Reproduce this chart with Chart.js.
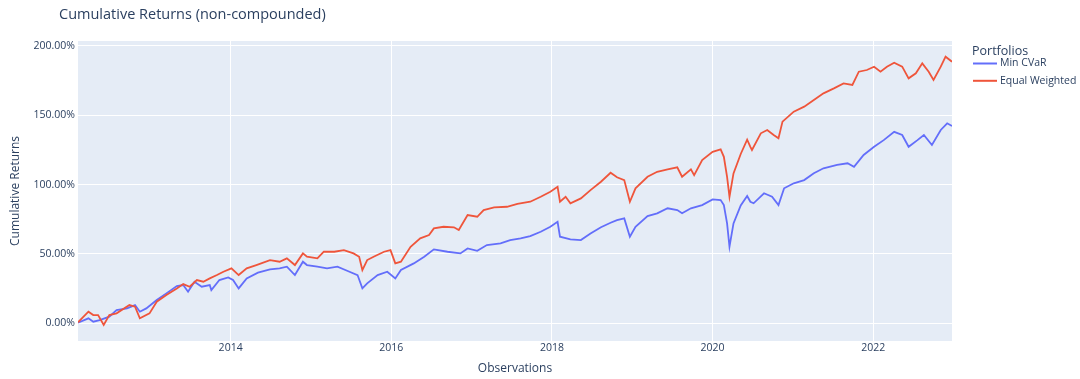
<!DOCTYPE html>
<html>
<head>
<meta charset="utf-8">
<script src="https://cdn.jsdelivr.net/npm/chart.js@4.4.1/dist/chart.umd.min.js"></script>
<style>
  html, body { margin: 0; padding: 0; background: #ffffff; }
  #wrap { width: 1080px; height: 379px; position: relative; }
</style>
</head>
<body>
<div id="wrap"><canvas id="c" width="1080" height="379"></canvas></div>
<script>
// ---- data (fractional year, cumulative return in %) ----
const seriesNames = ["Min CVaR", "Equal Weighted"];
const xTickYears = [2014, 2016, 2018, 2020, 2022];
const yTickValues = [0, 50, 100, 150, 200];

const cvarYears = [2012.10, 2012.23, 2012.29, 2012.37, 2012.49, 2012.58, 2012.71, 2012.81, 2012.87, 2012.95,
  2013.08, 2013.20, 2013.33, 2013.41, 2013.47, 2013.55, 2013.64, 2013.74, 2013.76, 2013.86, 2013.97,
  2014.03, 2014.10, 2014.20, 2014.34, 2014.49, 2014.61, 2014.70, 2014.80, 2014.90, 2014.95,
  2015.08, 2015.20, 2015.33, 2015.45, 2015.58, 2015.64, 2015.70, 2015.83, 2015.95,
  2016.05, 2016.12, 2016.28, 2016.41, 2016.53, 2016.70, 2016.86, 2016.95,
  2017.07, 2017.19, 2017.36, 2017.48, 2017.61, 2017.73, 2017.86, 2017.98,
  2018.07, 2018.10, 2018.23, 2018.36, 2018.48, 2018.61, 2018.73, 2018.81, 2018.90, 2018.97,
  2019.04, 2019.19, 2019.31, 2019.44, 2019.56, 2019.62, 2019.73, 2019.87,
  2020.00, 2020.10, 2020.14, 2020.18, 2020.21, 2020.26, 2020.35, 2020.43, 2020.47, 2020.51, 2020.64, 2020.74, 2020.82, 2020.89,
  2021.01, 2021.14, 2021.26, 2021.38, 2021.55, 2021.68, 2021.76, 2021.88,
  2022.01, 2022.13, 2022.26, 2022.36, 2022.44, 2022.55, 2022.63, 2022.73, 2022.84, 2022.92, 2022.98];
const cvarValues = [0.5, 3.6, 1.2, 2.4, 4.8, 9.6, 10.8, 13.2, 8.4, 10.8,
  16.8, 21.6, 26.9, 27.6, 22.8, 30.0, 26.4, 27.6, 24.0, 31.2, 33.1,
  31.2, 25.2, 32.4, 36.5, 38.9, 39.6, 40.8, 34.8, 44.4, 42.0,
  40.8, 39.6, 40.8, 37.9, 34.8, 25.2, 28.8, 34.8, 37.2,
  32.4, 38.4, 43.2, 48.0, 53.3, 51.6, 50.4, 54.0,
  52.3, 56.4, 57.6, 60.0, 61.2, 62.9, 66.0, 69.6,
  73.2, 62.4, 60.5, 60.0, 64.8, 69.2, 72.5, 74.4, 75.6, 62.4,
  69.6, 77.3, 79.3, 82.9, 81.6, 79.3, 82.9, 85.2,
  89.3, 88.8, 85.2, 72.0, 55.2, 72.0, 85.0, 91.7, 87.6, 86.5, 93.7, 91.2, 85.2, 97.3,
  100.9, 103.2, 108.1, 111.7, 114.1, 115.3, 112.8, 121.3,
  127.2, 132.0, 138.0, 135.7, 127.2, 132.0, 135.7, 128.5, 139.3, 144.1, 142.2];

const ewYears = [2012.10, 2012.23, 2012.29, 2012.35, 2012.42, 2012.49, 2012.58, 2012.74, 2012.81, 2012.87, 2012.99,
  2013.08, 2013.20, 2013.33, 2013.41, 2013.49, 2013.58, 2013.66, 2013.74, 2013.83, 2013.91,
  2014.01, 2014.10, 2014.20, 2014.32, 2014.49, 2014.61, 2014.70, 2014.80, 2014.90, 2014.95,
  2015.08, 2015.16, 2015.29, 2015.41, 2015.53, 2015.60, 2015.64, 2015.70, 2015.78, 2015.91, 2015.99,
  2016.05, 2016.12, 2016.24, 2016.36, 2016.47, 2016.53, 2016.65, 2016.78, 2016.84, 2016.95,
  2017.07, 2017.15, 2017.28, 2017.44, 2017.57, 2017.73, 2017.86, 2017.98,
  2018.07, 2018.10, 2018.17, 2018.23, 2018.36, 2018.48, 2018.61, 2018.73, 2018.81, 2018.90, 2018.97,
  2019.04, 2019.19, 2019.31, 2019.44, 2019.56, 2019.62, 2019.73, 2019.77, 2019.87,
  2020.00, 2020.10, 2020.14, 2020.18, 2020.21, 2020.26, 2020.35, 2020.43, 2020.47, 2020.49, 2020.60, 2020.68, 2020.76, 2020.82, 2020.87,
  2021.01, 2021.14, 2021.26, 2021.38, 2021.51, 2021.63, 2021.74, 2021.82, 2021.92,
  2022.01, 2022.09, 2022.17, 2022.26, 2022.36, 2022.44, 2022.53, 2022.61, 2022.69, 2022.75, 2022.84, 2022.90, 2022.98];
const ewValues = [0.8, 8.4, 6.0, 6.0, -1.2, 6.0, 7.2, 13.2, 12.0, 3.6, 7.2,
  15.6, 20.4, 25.2, 28.3, 26.4, 31.2, 30.0, 32.4, 34.8, 37.2,
  39.6, 34.8, 39.6, 42.0, 45.6, 44.4, 46.8, 42.0, 50.4, 48.0,
  46.8, 51.6, 51.6, 52.8, 50.4, 48.0, 38.4, 45.6, 48.0, 51.6, 52.8,
  43.2, 44.4, 55.2, 61.2, 63.6, 68.4, 69.6, 69.2, 67.2, 78.0,
  76.8, 81.6, 83.6, 84.0, 86.0, 87.6, 91.2, 94.8,
  98.4, 87.6, 91.2, 86.5, 90.0, 96.0, 102.0, 108.5, 105.2, 103.2, 87.6,
  97.3, 105.6, 109.2, 111.0, 112.4, 105.6, 111.0, 106.8, 117.7,
  123.6, 125.4, 120.0, 105.6, 91.2, 108.0, 122.0, 132.3, 127.2, 124.9, 136.9, 139.3, 135.7, 133.3, 145.3,
  152.5, 156.1, 160.9, 165.7, 169.3, 172.9, 171.7, 181.3, 182.5,
  184.9, 181.3, 184.9, 187.8, 184.9, 176.5, 180.1, 187.3, 181.3, 175.3, 184.9, 192.1, 188.5];

// ---- styling ----
const FONT = "'Open Sans', 'Liberation Sans', sans-serif";
const TEXT = "#2a3f5f";
const BLUE = "#636efa";
const RED = "#ef553b";
const PLOT_BG = "#e5ecf6";

const toPoints = (xs, ys) => xs.map((x, i) => ({ x: x, y: ys[i] }));

const bgPlugin = {
  id: "plotBg",
  beforeDraw(chart) {
    const { ctx, chartArea: a } = chart;
    ctx.save();
    ctx.fillStyle = PLOT_BG;
    ctx.fillRect(a.left, a.top, a.right - a.left, a.bottom - a.top);
    ctx.restore();
  }
};

const textPlugin = {
  id: "titleLegend",
  afterDraw(chart) {
    const { ctx, chartArea: a } = chart;
    ctx.save();
    ctx.fillStyle = TEXT;
    ctx.textBaseline = "middle";
    ctx.textAlign = "left";
    ctx.font = "14.5px " + FONT;
    ctx.fillText("Cumulative Returns (non-compounded)", 59, 15);
    // legend
    const lx = a.right + 20;
    ctx.font = "12.5px " + FONT;
    ctx.fillText("Portfolios", lx, 51);
    const colors = [BLUE, RED];
    ctx.font = "10.5px " + FONT;
    seriesNames.forEach((name, i) => {
      const y = 63.5 + i * 17.3;
      ctx.strokeStyle = colors[i];
      ctx.lineWidth = 2;
      ctx.beginPath();
      ctx.moveTo(lx + 1, y);
      ctx.lineTo(lx + 25, y);
      ctx.stroke();
      ctx.fillStyle = TEXT;
      ctx.fillText(name, lx + 28, y);
    });
    ctx.restore();
  }
};

new Chart(document.getElementById("c"), {
  type: "line",
  data: {
    datasets: [
      { label: seriesNames[0], data: toPoints(cvarYears, cvarValues), borderColor: BLUE, borderWidth: 1.8, pointRadius: 0, tension: 0, order: 2 },
      { label: seriesNames[1], data: toPoints(ewYears, ewValues), borderColor: RED, borderWidth: 1.8, pointRadius: 0, tension: 0, order: 1 }
    ]
  },
  options: {
    responsive: false,
    animation: false,
    devicePixelRatio: 1,
    layout: { padding: { top: 41, right: 128, bottom: 0, left: 0 } },
    plugins: { legend: { display: false }, title: { display: false }, tooltip: { enabled: false } },
    scales: {
      x: {
        type: "linear",
        min: 2012.10,
        max: 2022.98,
        afterBuildTicks(scale) { scale.ticks = xTickYears.map(v => ({ value: v })); },
        afterFit(scale) { scale.height = 38; },
        grid: { color: "#ffffff", lineWidth: 1, drawTicks: false },
        border: { display: false },
        ticks: { padding: 1, color: TEXT, font: { family: FONT, size: 10.5 }, maxRotation: 0, callback: v => String(v) },
        title: { display: true, text: "Observations", color: TEXT, font: { family: FONT, size: 12 }, padding: { top: 0, bottom: 3 } }
      },
      y: {
        type: "linear",
        min: -12.7,
        max: 203.4,
        afterBuildTicks(scale) { scale.ticks = yTickValues.map(v => ({ value: v })); },
        afterFit(scale) { scale.width = 78; },
        grid: { color: "#ffffff", lineWidth: 1, drawTicks: false },
        border: { display: false },
        ticks: { padding: 3, color: TEXT, font: { family: FONT, size: 10.5 }, callback: v => Number(v).toFixed(2) + "%" },
        title: { display: true, text: "Cumulative Returns", color: TEXT, font: { family: FONT, size: 12 }, padding: { top: 8, bottom: 0 } }
      }
    }
  },
  plugins: [bgPlugin, textPlugin]
});
</script>
</body>
</html>
